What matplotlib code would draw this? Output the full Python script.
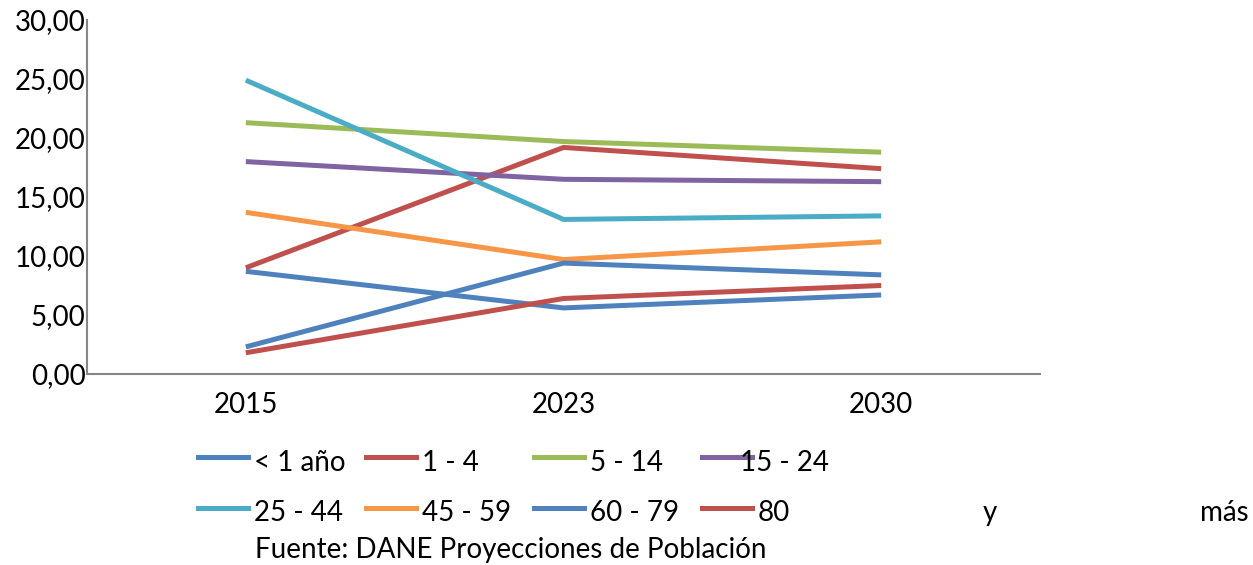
import matplotlib
matplotlib.use("Agg")
import matplotlib.pyplot as plt
from matplotlib.lines import Line2D

plt.rcParams['font.family'] = ['Lato', 'DejaVu Sans']

years = ["2015", "2023", "2030"]
series_names = ["< 1 año", "1 - 4", "5 - 14", "15 - 24",
                "25 - 44", "45 - 59", "60 - 79", "80 y más"]
v_lt1 = [8.7, 5.6, 6.7]
v_1_4 = [9.0, 19.2, 17.4]
v_5_14 = [21.3, 19.7, 18.8]
v_15_24 = [18.0, 16.5, 16.3]
v_25_44 = [24.9, 13.1, 13.4]
v_45_59 = [13.7, 9.7, 11.2]
v_60_79 = [2.3, 9.4, 8.4]
v_80 = [1.8, 6.4, 7.5]
y_ticks = [0, 5, 10, 15, 20, 25, 30]
y_tick_labels = ["0,00", "5,00", "10,00", "15,00", "20,00", "25,00", "30,00"]
source = "Fuente: DANE Proyecciones de Población"

values = [v_lt1, v_1_4, v_5_14, v_15_24, v_25_44, v_45_59, v_60_79, v_80]
colors = ["#4F81BD", "#C0504D", "#9BBB59", "#8064A2",
          "#4BACC6", "#F79646", "#4F81BD", "#C0504D"]

W, H = 1253, 565
fig = plt.figure(figsize=(W / 100, H / 100), dpi=100)
ax = fig.add_axes([87 / W, 1 - 374 / H, (1040 - 87) / W, (374 - 20) / H])

x = list(range(len(years)))
for vals, c in zip(values, colors):
    ax.plot(x, vals, color=c, lw=3.6, solid_capstyle='butt', solid_joinstyle='miter')

ax.set_xlim(-0.5, len(years) - 0.5)
ax.set_ylim(0, 30)
ax.set_xticks(x)
ax.set_xticklabels(years, fontsize=20)
ax.set_yticks(y_ticks)
ax.set_yticklabels(y_tick_labels, fontsize=20)
ax.tick_params(axis='both', length=0)
ax.tick_params(axis='x', pad=13)
ax.tick_params(axis='y', pad=1)
for s in ['top', 'right']:
    ax.spines[s].set_visible(False)
for s in ['left', 'bottom']:
    ax.spines[s].set_color('#868686')
    ax.spines[s].set_linewidth(1.5)

# manual legend
col_x = [198, 366, 534, 702]
row_line_y = [457, 508]
row_text_y = [463, 513]
for i, (name, c) in enumerate(zip(series_names, colors)):
    r, col = divmod(i, 4)
    x0 = col_x[col]
    fig.add_artist(Line2D([x0 / W, (x0 + 50) / W],
                          [1 - row_line_y[r] / H, 1 - row_line_y[r] / H],
                          color=c, lw=3.6, transform=fig.transFigure))
    label = name
    tx = x0 + 56
    if col == 3 and r == 0:
        tx = x0 + 38
    if name == "80 y más":
        label = "80"
    fig.text(tx / W, 1 - row_text_y[r] / H, label, fontsize=20,
             va='center', ha='left')
fig.text(983 / W, 1 - 513 / H, "y", fontsize=20, va='center', ha='left')
fig.text(1249 / W, 1 - 513 / H, "más", fontsize=20, va='center', ha='right')
fig.text(255 / W, 1 - 550 / H, source, fontsize=20, va='center', ha='left')

fig.savefig("out.png", dpi=100)
